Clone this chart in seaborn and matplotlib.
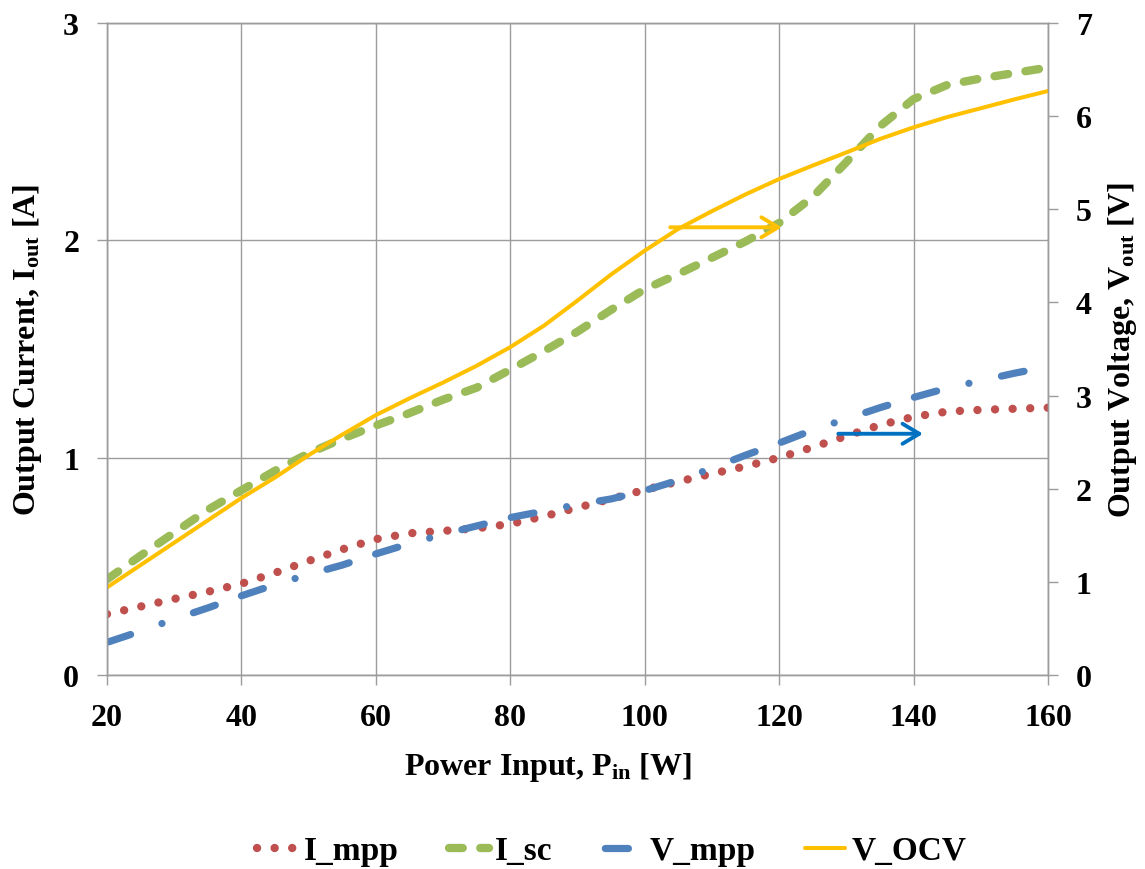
import matplotlib
matplotlib.use("Agg")
import matplotlib.pyplot as plt
import seaborn as sns

# Input power sweep [W]
p_in = [20, 25, 30, 35, 40, 45, 50, 55, 60, 65, 70, 75, 80, 85, 90,
        95, 100, 105, 110, 115, 120, 125, 130, 135, 140, 145, 150, 155, 160]

# Currents [A] (left axis)
i_mpp = [0.28, 0.315, 0.35, 0.383, 0.42, 0.47, 0.525, 0.578, 0.625, 0.652, 0.663, 0.675, 0.695, 0.73, 0.77,
         0.81, 0.852, 0.89, 0.926, 0.96, 1.0, 1.048, 1.10, 1.15, 1.188, 1.212, 1.22, 1.225, 1.23]
i_sc = [0.44, 0.549, 0.655, 0.76, 0.85, 0.94, 1.02, 1.087, 1.148, 1.205, 1.267, 1.322, 1.405, 1.49, 1.58,
        1.68, 1.775, 1.845, 1.92, 1.995, 2.08, 2.20, 2.36, 2.525, 2.65, 2.715, 2.745, 2.77, 2.795]

# Voltages [V] (right axis)
v_mpp = [0.35, 0.47, 0.60, 0.72, 0.85, 0.97, 1.08, 1.18, 1.30, 1.41, 1.51, 1.60, 1.69, 1.76, 1.83,
         1.89, 1.98, 2.09, 2.22, 2.36, 2.49, 2.63, 2.75, 2.87, 2.98, 3.08, 3.16, 3.24, 3.31]
v_ocv = [0.94, 1.18, 1.42, 1.66, 1.90, 2.12, 2.36, 2.58, 2.79, 2.97, 3.14, 3.32, 3.52, 3.75, 4.02,
         4.30, 4.556, 4.79, 4.98, 5.16, 5.325, 5.47, 5.61, 5.755, 5.88, 5.99, 6.085, 6.18, 6.27]

x_ticks = [20, 40, 60, 80, 100, 120, 140, 160]
i_ticks = [0, 1, 2, 3]
v_ticks = [0, 1, 2, 3, 4, 5, 6, 7]

sns.set_theme(style="white")
plt.rcParams.update({
    "font.family": ["Liberation Serif", "DejaVu Serif"],
    "font.weight": "bold",
    "axes.labelweight": "bold",
    "axes.labelcolor": "black",
    "text.color": "black",
    "mathtext.default": "regular",
})

GRID = "#9c9c9c"
FS = 23

fig = plt.figure(figsize=(11.45, 8.7), dpi=100)
ax = fig.add_axes([0.0934, 0.2230, 0.8219, 0.7494])
ax2 = ax.twinx()

sns.lineplot(x=p_in, y=i_mpp, ax=ax, color="#C0504D", lw=6.0,
             linestyle=(0, (0.01, 2.1)), label="I_mpp", legend=False)
sns.lineplot(x=p_in, y=i_sc, ax=ax, color="#9BBB59", lw=6.0,
             linestyle=(0, (1.65, 2.1)), label="I_sc", legend=False)
sns.lineplot(x=p_in, y=v_mpp, ax=ax2, color="#4F81BD", lw=5.2,
             linestyle=(6.8, (3.2, 3.85, 3.2, 4.6, 0.01, 4.6)),
             label="V_mpp", legend=False)
sns.lineplot(x=p_in, y=v_ocv, ax=ax2, color="#FFC000", lw=2.9,
             label="V_OCV", legend=False)

for line in ax.get_lines() + ax2.get_lines():
    line.set_dash_capstyle("round")
    line.set_solid_capstyle("round")

# Arrows pointing to the axis each curve belongs to
ax.annotate("", xy=(120.4, 2.06), xytext=(103.8, 2.06),
            arrowprops=dict(arrowstyle="->,head_length=1.0,head_width=0.6",
                            color="#FFC000", lw=2.8, mutation_scale=12,
                            shrinkA=0, shrinkB=0))
ax.annotate("", xy=(141.4, 1.11), xytext=(128.8, 1.11),
            arrowprops=dict(arrowstyle="->,head_length=1.0,head_width=0.6",
                            color="#0070C0", lw=2.8, mutation_scale=12,
                            shrinkA=0, shrinkB=0))

ax.set_xlim(20, 160)
ax.set_ylim(0, 3)
ax2.set_ylim(0, 7)
ax.set_xticks(x_ticks)
ax.set_yticks(i_ticks)
ax2.set_yticks(v_ticks)

ax.grid(True, color=GRID, lw=1.0)
ax2.grid(False)
ax.set_axisbelow(True)

for a in (ax, ax2):
    for s in a.spines.values():
        s.set_color(GRID)
        s.set_linewidth(1.0)

ax.tick_params(axis="both", which="major", direction="out", length=7, width=1,
               color=GRID, pad=13, labelsize=FS, labelcolor="black",
               bottom=True, left=True)
ax2.tick_params(axis="y", which="major", direction="out", length=7, width=1,
                color=GRID, pad=13, labelsize=FS, labelcolor="black",
                right=True, left=False)

ax.set_xlabel("Power Input, P$_{in}$ [W]", fontsize=FS, fontweight="bold")
ax.xaxis.set_label_coords(0.469, -0.115)
ax.set_ylabel("Output Current, I$_{out}$ [A]", fontsize=FS, fontweight="bold", labelpad=14)
ax2.set_ylabel("Output Voltage, V$_{out}$ [V]", fontsize=FS, fontweight="bold", labelpad=10)

handles = ax.get_lines()[:2] + ax2.get_lines()[:2]
labels = ["I_mpp", "I_sc", "V_mpp", "V_OCV"]
fig.legend(handles, labels, loc="center", bbox_to_anchor=(0.5345, 0.021), ncol=4,
           frameon=False, fontsize=24, handlelength=1.2, handletextpad=0.2,
           columnspacing=1.5)

fig.savefig("out.png", dpi=100)
